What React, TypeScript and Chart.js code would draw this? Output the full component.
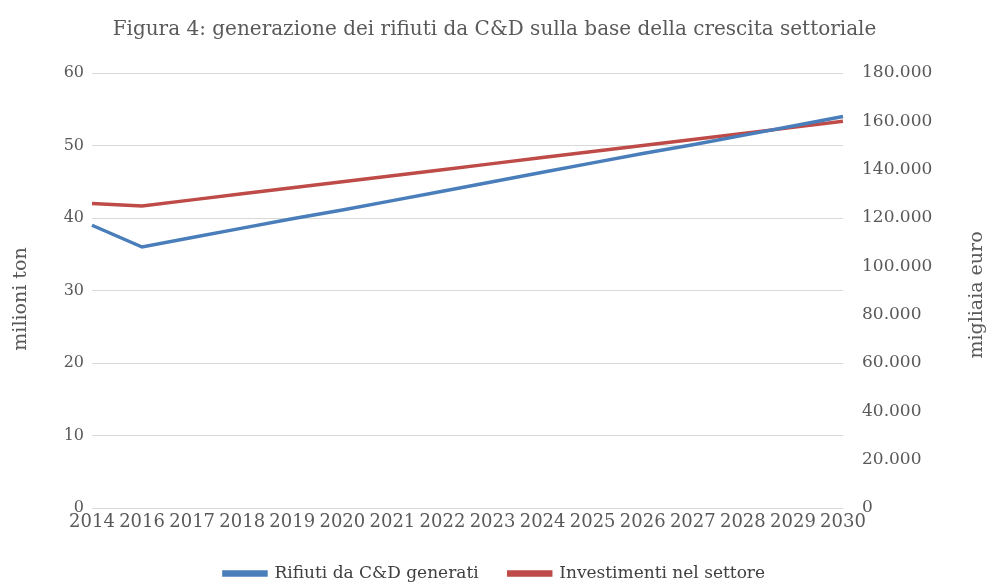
import React, { useEffect, useRef } from "react";
import { Chart, registerables } from "chart.js";

Chart.register(...registerables);

const titleText = "Figura 4: generazione dei rifiuti da C&D sulla base della crescita settoriale";
const years = ["2014", "2016", "2017", "2018", "2019", "2020", "2021", "2022", "2023", "2024", "2025", "2026", "2027", "2028", "2029", "2030"];
const rifiuti = [39, 36, 37.3, 38.6, 39.9, 41.1, 42.4, 43.7, 45, 46.3, 47.6, 48.9, 50.1, 51.4, 52.7, 54];
const investimenti = [126000, 125000, 127500, 130000, 132500, 135000, 137500, 140000, 142500, 145000, 147500, 150000, 152500, 155000, 157500, 160000];
const leftTitle = "milioni ton";
const rightTitle = "migliaia euro";

const FONT = "'DejaVu Serif', serif";
const GREY = "#595959";

function fmt(v: number) {
  const s = Math.round(v).toString();
  return s.replace(/\B(?=(\d{3})+(?!\d))/g, ".");
}

const axisTitles = {
  id: "axisTitles",
  afterDraw(chart: any) {
    const { ctx } = chart;
    const draw = (text: string, x: number, y: number) => {
      ctx.save();
      ctx.fillStyle = GREY;
      ctx.font = `19px ${FONT}`;
      ctx.textAlign = "center";
      ctx.textBaseline = "middle";
      ctx.translate(x, y);
      ctx.rotate(-Math.PI / 2);
      ctx.fillText(text, 0, 0);
      ctx.restore();
    };
    draw(leftTitle, 21, 299);
    draw(rightTitle, 977, 295);
  },
};

export default function App() {
  const ref = useRef<HTMLCanvasElement | null>(null);
  useEffect(() => {
    document.body.style.margin = "0";
    if (!ref.current) return;
    const chart = new Chart(ref.current, {
      type: "line",
      data: {
        labels: years,
        datasets: [
          {
            label: "Rifiuti da C&D generati",
            data: rifiuti,
            borderColor: "#4A7EBB",
            backgroundColor: "#4A7EBB",
            borderWidth: 3.5,
            pointRadius: 0,
            tension: 0,
            yAxisID: "y",
          },
          {
            label: "Investimenti nel settore",
            data: investimenti,
            borderColor: "#BE4B48",
            backgroundColor: "#BE4B48",
            borderWidth: 3.5,
            pointRadius: 0,
            tension: 0,
            yAxisID: "y1",
          },
        ],
      },
      options: {
        animation: false,
        responsive: false,
        devicePixelRatio: 1,
        layout: { padding: { left: 0, right: 0, top: 0, bottom: -7 } },
        plugins: {
          title: {
            display: true,
            text: titleText,
            color: GREY,
            font: { family: FONT, size: 20, weight: "normal" },
            padding: { top: 18, bottom: 31 },
          },
          legend: {
            position: "bottom",
            labels: {
              boxWidth: 42,
              boxHeight: 3,
              padding: 30,
              color: "#404040",
              font: { family: FONT, size: 17 },
            },
          },
          tooltip: { enabled: false },
        },
        scales: {
          x: {
            offset: false,
            grid: { display: false, drawTicks: false },
            border: { display: false },
            ticks: {
              color: GREY,
              font: { family: FONT, size: 18 },
              maxRotation: 0,
              autoSkip: false,
              padding: 4,
            },
            afterFit(scale: any) {
              scale.height = 27;
            },
          },
          y: {
            position: "left",
            min: 0,
            max: 60,
            ticks: {
              stepSize: 10,
              color: GREY,
              font: { family: FONT, size: 16 },
              padding: 8,
            },
            grid: { color: "#D9D9D9", drawTicks: false, lineWidth: 1 },
            border: { display: false },
            afterFit(scale: any) {
              scale.width = 92;
            },
          },
          y1: {
            position: "right",
            min: 0,
            max: 180000,
            ticks: {
              stepSize: 20000,
              color: GREY,
              font: { family: FONT, size: 17 },
              padding: 19,
              callback: (v: any) => fmt(Number(v)),
            },
            grid: { display: false, drawTicks: false },
            border: { display: false },
            afterFit(scale: any) {
              scale.width = 146;
            },
          },
        },
      },
      plugins: [axisTitles],
    });
    return () => chart.destroy();
  }, []);
  return (
    <div style={{ width: 989, height: 585, background: "#fff" }}>
      <canvas ref={ref} width={989} height={585} />
    </div>
  );
}
